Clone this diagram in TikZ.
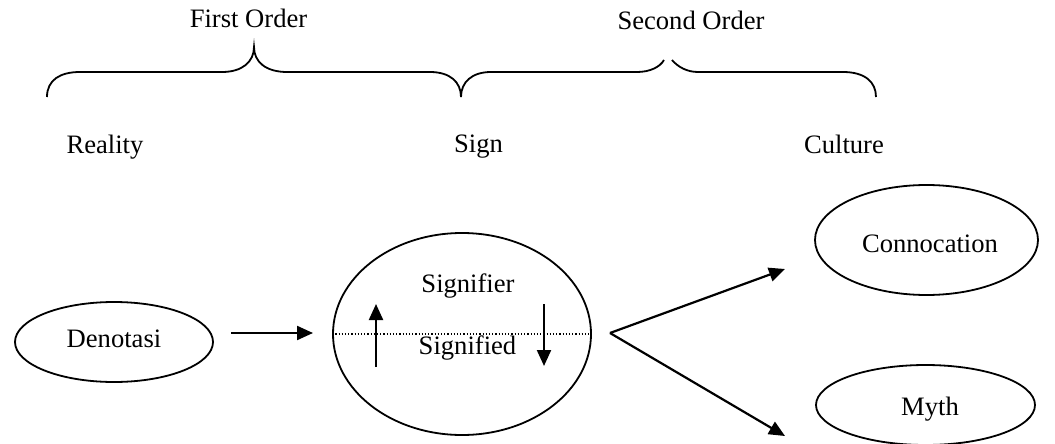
\documentclass[tikz,border=0pt]{standalone}
\usepackage{fontspec}
\setmainfont{Liberation Serif}
\usetikzlibrary{arrows.meta,shapes.geometric}
\begin{document}
\begin{tikzpicture}[x=1pt,y=-1pt,
  every node/.style={font=\fontsize{26.6}{30}\selectfont},
  lbl/.style={anchor=base,inner sep=0pt},
  oval/.style={draw,ellipse,line width=1.8pt,inner sep=0pt},
  arr/.style={line width=2.2pt,-{Triangle[length=16pt,width=14pt]}},
  brace/.style={line width=1.8pt}]
\useasboundingbox (0,0) rectangle (1055,444);
% braces
\draw[brace] (47,97) .. controls (47,80) and (60,72) .. (80,72) -- (222,72)
  .. controls (242,72) and (254,62) .. (254,47)
  .. controls (254,62) and (266,72) .. (287,72) -- (430,72)
  .. controls (450,72) and (461,82) .. (461,97);
\draw[brace] (461,97) .. controls (461,82) and (472,72) .. (491,72) -- (637,72)
  .. controls (650,72) and (660,67) .. (664,60);
\draw[brace] (672,60) .. controls (678,67) and (687,72) .. (698,72) -- (843,72)
  .. controls (865,72) and (876,82) .. (876,97);
% labels
\node[lbl] (fo) at (248.5,28) {First Order};
\node[lbl] (so) at (691,30) {Second Order};
\node[lbl] (re) at (105,153) {Reality};
\node[lbl] (si) at (478.5,152) {Sign};
\node[lbl] (cu) at (844,153) {Culture};
% ellipses
\node[oval,minimum width=198pt,minimum height=80pt] (den) at (114,342) {};
\node[lbl] (dent) at (114,347) {Denotasi};
\node[oval,minimum width=258pt,minimum height=202pt] (sign) at (462,334) {};
\node[lbl] (sfr) at (468,292) {Signifier};
\node[lbl] (sfd) at (467.5,354) {Signified};
\node[oval,minimum width=223pt,minimum height=110pt] (con) at (926.5,240) {};
\node[lbl] (cont) at (930,252) {Connocation};
\node[oval,minimum width=219pt,minimum height=80pt] (myth) at (925.5,405) {};
\node[lbl] (mytht) at (930,415) {Myth};
% dotted divider
\draw[dotted,line width=1.2pt] (sign.west) -- (sign.east);
% arrows
\coordinate (a1) at (231,333);
\coordinate (a2) at (313,333);
\draw[arr] (a1) -- (a2);
\coordinate (u1) at (376,367);
\coordinate (u2) at (376,304);
\draw[arr] (u1) -- (u2);
\coordinate (d1) at (544,304);
\coordinate (d2) at (544,366);
\draw[arr] (d1) -- (d2);
\coordinate (fork) at (610,333);
\coordinate (fu) at (785,269);
\coordinate (fd) at (785,436);
\draw[arr] (fork) -- (fu);
\draw[arr] (fork) -- (fd);
\end{tikzpicture}
\end{document}
